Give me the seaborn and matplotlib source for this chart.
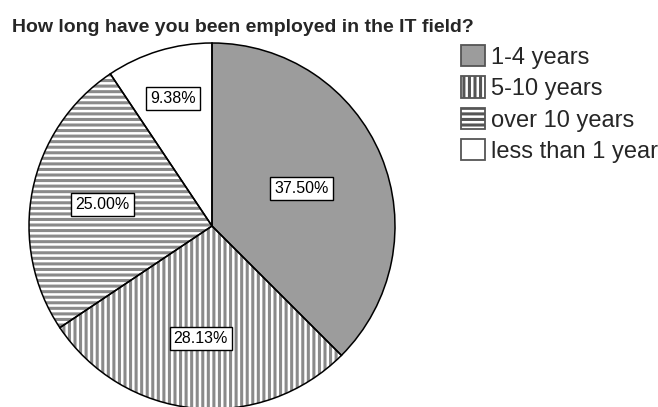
import numpy as np
import matplotlib
matplotlib.use("Agg")
import matplotlib.pyplot as plt
import matplotlib.patches as mpatches
import seaborn as sns

categories = ["1-4 years", "5-10 years", "over 10 years", "less than 1 year"]
percents = [37.50, 28.13, 25.00, 9.38]

# look of each slice (SPSS style fills)
fills = ["#9c9c9c", "white", "white", "white"]
hatches = ["", "|||", "---", ""]
label_radius = [0.53, 0.62, 0.61, 0.73]

sns.set_style("white")
plt.rcParams["font.family"] = ["Liberation Sans", "DejaVu Sans"]
plt.rcParams["hatch.linewidth"] = 2.2

fig = plt.figure(figsize=(6.58, 4.07), dpi=100)
ax = fig.add_axes([29 / 658, -2 / 407, 366 / 658, 366 / 407])

# hatched fills first, then the black outlines on top
wedges, _ = ax.pie(percents, startangle=90, counterclock=False,
                   colors=fills, wedgeprops=dict(linewidth=0, edgecolor="#8a8a8a"))
for w, h in zip(wedges, hatches):
    w.set_hatch(h)
outline, _ = ax.pie(percents, startangle=90, counterclock=False,
                    wedgeprops=dict(facecolor="none", edgecolor="black", linewidth=1.1))

for w, v, r in zip(wedges, percents, label_radius):
    ang = np.deg2rad((w.theta1 + w.theta2) / 2)
    ax.text(r * np.cos(ang), r * np.sin(ang), f"{v:.2f}%", ha="center", va="center",
            fontsize=11.5, color="black",
            bbox=dict(boxstyle="square,pad=0.25", facecolor="white", edgecolor="black", linewidth=1))

ax.set_xlim(-1, 1)
ax.set_ylim(-1, 1)
ax.set_axis_off()

fig.text(12 / 658, 1 - 32 / 407, "How long have you been employed in the IT field?",
         fontsize=14, fontweight="bold", va="baseline", ha="left")

handles = [mpatches.Patch(facecolor=f, hatch=h, edgecolor="#555555", linewidth=1.3)
           for f, h in zip(fills, hatches)]
fig.legend(handles, categories, loc="upper left", bbox_to_anchor=(461 / 658, 1 - 45 / 407),
           frameon=False, fontsize=17, handlelength=1.0, handleheight=1.0,
           handletextpad=0.25, labelspacing=0.33, borderpad=0, borderaxespad=0)

fig.savefig("out.png", dpi=100)
